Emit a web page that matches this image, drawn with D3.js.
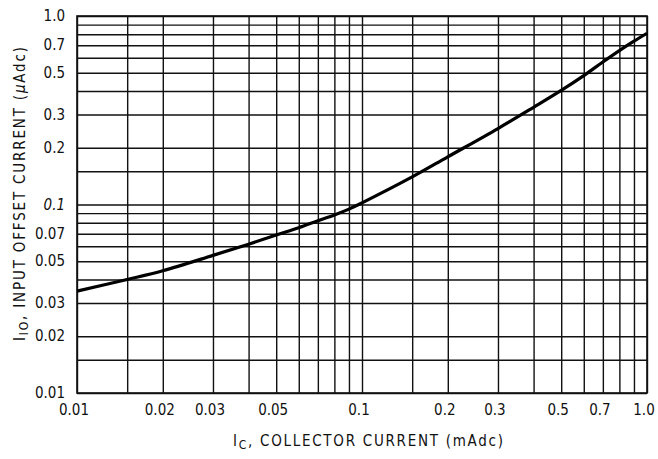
<!DOCTYPE html>
<html>
<head>
<meta charset="utf-8">
<script src="https://cdn.jsdelivr.net/npm/d3@7"></script>
<style>
  body { margin: 0; background: #fff; }
  svg { display: block; }
  text { font-family: "Liberation Sans Narrow", "DejaVu Sans Condensed", "Liberation Sans", sans-serif; fill: #111; }
</style>
</head>
<body>
<svg id="chart" width="658" height="459"></svg>
<script>
// collector current (mAdc) vs input offset current (uAdc)
const icValues = [0.01, 0.015, 0.02, 0.03, 0.04, 0.05, 0.06, 0.07, 0.08, 0.09, 0.1, 0.15, 0.2, 0.3, 0.4, 0.5, 0.6, 0.7, 0.8, 0.9, 1.0];
const iioValues = [0.0347, 0.040, 0.0445, 0.0537, 0.0616, 0.0689, 0.0753, 0.082, 0.088, 0.0945, 0.102, 0.14, 0.179, 0.253, 0.328, 0.403, 0.483, 0.57, 0.655, 0.735, 0.81];

const gridX = [0.01, 0.015, 0.02, 0.03, 0.04, 0.05, 0.06, 0.07, 0.08, 0.09, 0.1, 0.15, 0.2, 0.3, 0.4, 0.5, 0.6, 0.7, 0.8, 0.9, 1.0];
const gridY = [0.01, 0.015, 0.02, 0.03, 0.04, 0.05, 0.06, 0.07, 0.08, 0.09, 0.1, 0.15, 0.2, 0.3, 0.4, 0.5, 0.6, 0.7, 0.8, 0.9, 1.0];

const xTicks = [0.01, 0.02, 0.03, 0.05, 0.1, 0.2, 0.3, 0.5, 0.7, 1.0];
const xTickLabels = ["0.01", "0.02", "0.03", "0.05", "0.1", "0.2", "0.3", "0.5", "0.7", "1.0"];
const yTicks = [0.01, 0.02, 0.03, 0.05, 0.07, 0.1, 0.2, 0.3, 0.5, 0.7, 1.0];
const yTickLabels = ["0.01", "0.02", "0.03", "0.05", "0.07", "0.1", "0.2", "0.3", "0.5", "0.7", "1.0"];

const plot = { left: 77, right: 647, top: 16, bottom: 393 };

const svg = d3.select("#chart");

const x = d3.scaleLog().domain([0.01, 1]).range([plot.left, plot.right]);
const y = d3.scaleLog().domain([0.01, 1]).range([plot.bottom, plot.top]);

// grid
svg.append("g")
  .attr("transform", "translate(0," + plot.bottom + ")")
  .call(d3.axisBottom(x).tickValues(gridX).tickSize(-(plot.bottom - plot.top)).tickFormat(""))
  .call(g => g.select(".domain").remove())
  .selectAll("line").attr("stroke", "#111").attr("stroke-width", 1.4);

svg.append("g")
  .attr("transform", "translate(" + plot.left + ",0)")
  .call(d3.axisLeft(y).tickValues(gridY).tickSize(-(plot.right - plot.left)).tickFormat(""))
  .call(g => g.select(".domain").remove())
  .selectAll("line").attr("stroke", "#111").attr("stroke-width", 1.4);

svg.append("rect")
  .attr("x", plot.left).attr("y", plot.top)
  .attr("width", plot.right - plot.left).attr("height", plot.bottom - plot.top)
  .attr("fill", "none").attr("stroke", "#111").attr("stroke-width", 1.6);

// tick labels
svg.append("g").selectAll("text")
  .data(xTicks)
  .join("text")
  .attr("x", d => x(d) - 3)
  .attr("y", 415)
  .attr("text-anchor", "middle")
  .attr("font-size", 15)
  .text((d, i) => xTickLabels[i]);

svg.append("g").selectAll("text")
  .data(yTicks)
  .join("text")
  .attr("x", 65)
  .attr("y", d => y(d) + 5)
  .attr("text-anchor", "end")
  .attr("font-size", 15)
  .attr("font-style", d => d === 0.1 ? "italic" : "normal")
  .text((d, i) => yTickLabels[i]);

// axis titles
const xt = svg.append("text")
  .attr("x", 233).attr("y", 446)
  .attr("font-size", 15)
  .attr("textLength", 270)
  .attr("lengthAdjust", "spacing");
xt.append("tspan").text("I");
xt.append("tspan").attr("font-size", 12).attr("dy", 3).text("C");
xt.append("tspan").attr("dy", -3).text(", COLLECTOR CURRENT (mAdc)");

const yt = svg.append("text")
  .attr("transform", "translate(25,341) rotate(-90)")
  .attr("font-size", 15)
  .attr("textLength", 294)
  .attr("lengthAdjust", "spacing");
yt.append("tspan").text("I");
yt.append("tspan").attr("font-size", 12).attr("dy", 3).text("IO");
yt.append("tspan").attr("dy", -3).text(", INPUT OFFSET CURRENT (");
yt.append("tspan").attr("font-style", "italic").text("\u03bc");
yt.append("tspan").text("Adc)");

// curve
const line = d3.line()
  .x((d, i) => x(icValues[i]))
  .y(d => y(d))
  .curve(d3.curveCatmullRom.alpha(0.5));

svg.append("path")
  .datum(iioValues)
  .attr("d", line)
  .attr("fill", "none")
  .attr("stroke", "#000")
  .attr("stroke-width", 3.2);
</script>
</body>
</html>
